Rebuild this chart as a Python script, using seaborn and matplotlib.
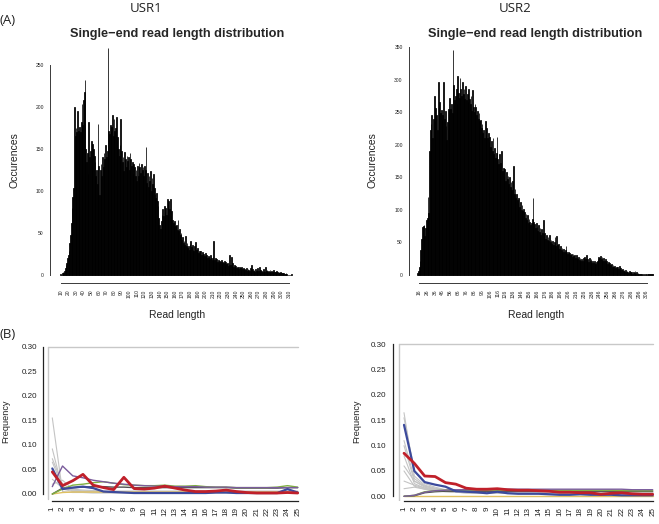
import numpy as np
import pandas as pd
import matplotlib
matplotlib.use("Agg")
import matplotlib.pyplot as plt
import seaborn as sns

sns.set_style("white")
plt.rcParams['font.family'] = ['Liberation Sans', 'DejaVu Sans']

# ---------------- data ----------------
usr1_len = list(range(10, 314))
usr1_cnt = [1, 0, 2, 3, 2, 5, 8, 12, 14, 20, 24, 28, 38, 48, 62, 80, 93, 103, 200, 165,
            175, 170, 195, 172, 168, 176, 170, 182, 204, 178, 208, 218, 232, 150, 135, 145, 120, 182, 140, 148,
            160, 138, 156, 150, 142, 135, 118, 125, 108, 180, 130, 95, 125, 132, 118, 140, 128, 145, 138, 155,
            140, 148, 270, 172, 168, 178, 170, 176, 190, 166, 186, 172, 175, 188, 160, 164, 150, 142, 155, 186,
            148, 135, 140, 124, 146, 138, 128, 142, 136, 140, 125, 145, 138, 130, 135, 120, 132, 128, 118, 125,
            112, 130, 118, 133, 128, 122, 132, 125, 128, 118, 130, 125, 152, 110, 122, 105, 118, 112, 124, 100,
            115, 108, 120, 104, 96, 92, 98, 88, 82, 68, 60, 55, 64, 72, 78, 70, 82, 75, 80, 72,
            91, 84, 88, 78, 90, 70, 76, 66, 62, 57, 64, 58, 60, 54, 66, 52, 55, 48, 50, 42,
            45, 38, 40, 36, 46, 34, 38, 32, 35, 30, 37, 41, 33, 36, 30, 28, 34, 39, 30, 27,
            32, 26, 29, 25, 28, 24, 27, 22, 25, 23, 26, 21, 24, 20, 23, 22, 19, 24, 20, 18,
            22, 40, 18, 20, 16, 19, 15, 18, 14, 17, 15, 18, 13, 16, 14, 17, 12, 15, 13, 14,
            11, 13, 24, 12, 22, 11, 14, 10, 12, 9, 11, 8, 10, 9, 7, 10, 8, 6, 9, 7,
            8, 5, 7, 6, 8, 5, 7, 6, 5, 8, 6, 12, 7, 5, 6, 4, 7, 5, 6, 8,
            5, 9, 4, 6, 5, 4, 7, 5, 4, 9, 5, 6, 4, 5, 3, 6, 4, 5, 3, 4,
            6, 3, 4, 2, 5, 3, 2, 3, 2, 3, 2, 2, 1, 2, 1, 1, 2, 1, 0, 0,
            0, 0, 0, 1]

usr2_len = list(range(14, 315))
usr2_cnt = [3, 6, 12, 22, 38, 55, 74, 75, 76, 60, 72, 84, 88, 120, 95, 190, 222, 232, 246, 210,
            240, 275, 236, 256, 245, 222, 297, 255, 266, 248, 254, 238, 246, 296, 240, 252, 228, 208, 235, 255,
            250, 272, 255, 262, 248, 346, 292, 268, 275, 285, 262, 306, 280, 272, 302, 285, 275, 296, 278, 285,
            270, 290, 268, 278, 265, 286, 270, 262, 275, 252, 284, 258, 250, 262, 258, 245, 252, 240, 248, 236,
            238, 226, 232, 218, 222, 210, 236, 215, 225, 210, 218, 204, 212, 196, 205, 190, 210, 185, 195, 180,
            188, 212, 178, 170, 186, 165, 172, 190, 160, 165, 150, 162, 145, 158, 148, 152, 140, 150, 135, 142,
            130, 145, 168, 125, 132, 118, 124, 115, 110, 118, 105, 112, 100, 108, 98, 102, 96, 88, 94, 84,
            92, 80, 86, 82, 76, 80, 86, 118, 82, 78, 72, 80, 74, 68, 76, 66, 72, 62, 70, 64,
            84, 60, 64, 56, 62, 54, 58, 52, 62, 50, 54, 48, 52, 46, 50, 58, 44, 60, 46, 42,
            48, 40, 44, 38, 42, 36, 40, 35, 38, 44, 36, 32, 36, 30, 34, 30, 32, 28, 33, 29,
            30, 26, 30, 27, 24, 28, 23, 26, 22, 25, 21, 26, 22, 28, 24, 30, 22, 25, 20, 26,
            22, 24, 19, 22, 18, 21, 19, 17, 20, 22, 24, 28, 26, 29, 24, 27, 22, 26, 21, 24,
            18, 22, 17, 20, 16, 18, 15, 17, 13, 15, 12, 14, 11, 13, 10, 12, 9, 14, 8, 10,
            7, 9, 6, 8, 5, 7, 4, 6, 5, 3, 6, 4, 3, 5, 2, 4, 3, 6, 2, 4,
            2, 3, 1, 2, 1, 1, 1, 0, 1, 0, 1, 1, 0, 1, 1, 0, 1, 1, 1, 1, 1]

usr1_xticks = list(range(10, 311, 10))
usr2_xticks = list(range(16, 307, 10))

pos = list(range(1, 26))

# USR1 frequency series
u1_red = [0.045, 0.017, 0.027, 0.040, 0.018, 0.013, 0.009, 0.034, 0.011, 0.010, 0.012, 0.016, 0.012,
          0.008, 0.005, 0.005, 0.006, 0.008, 0.005, 0.003, 0.002, 0.002, 0.002, 0.003, 0.002]
u1_blue = [0.052, 0.010, 0.013, 0.015, 0.012, 0.005, 0.004, 0.003, 0.002, 0.002, 0.002, 0.002, 0.002,
           0.002, 0.002, 0.002, 0.003, 0.003, 0.002, 0.002, 0.002, 0.002, 0.002, 0.010, 0.003]
u1_purple = [0.015, 0.057, 0.037, 0.033, 0.028, 0.025, 0.022, 0.020, 0.018, 0.017, 0.016, 0.016, 0.015,
             0.015, 0.015, 0.014, 0.014, 0.014, 0.013, 0.013, 0.013, 0.013, 0.013, 0.013, 0.013]
u1_green = [0.000, 0.010, 0.018, 0.020, 0.023, 0.025, 0.022, 0.019, 0.018, 0.017, 0.017, 0.018, 0.016,
            0.016, 0.017, 0.015, 0.014, 0.014, 0.013, 0.013, 0.013, 0.013, 0.014, 0.017, 0.014]
u1_dark = [0.000, 0.012, 0.013, 0.014, 0.015, 0.015, 0.014, 0.014, 0.013, 0.013, 0.013, 0.013, 0.013,
           0.013, 0.013, 0.013, 0.013, 0.013, 0.012, 0.012, 0.012, 0.012, 0.012, 0.013, 0.013]
u1_yellow = [0.000, 0.003, 0.004, 0.004, 0.004, 0.004, 0.004, 0.004, 0.004, 0.004, 0.004, 0.004, 0.004,
             0.004, 0.004, 0.004, 0.004, 0.004, 0.004, 0.004, 0.004, 0.004, 0.004, 0.004, 0.004]
u1_gray = [
    [0.155, 0.005, 0.003, 0.003, 0.002, 0.002, 0.002, 0.002, 0.002, 0.002, 0.002, 0.002, 0.002,
     0.002, 0.002, 0.002, 0.002, 0.002, 0.002, 0.002, 0.002, 0.002, 0.002, 0.002, 0.002],
    [0.092, 0.010, 0.005, 0.004, 0.004, 0.003, 0.003, 0.003, 0.003, 0.003, 0.003, 0.003, 0.003,
     0.003, 0.003, 0.003, 0.003, 0.003, 0.003, 0.003, 0.003, 0.003, 0.003, 0.003, 0.003],
    [0.072, 0.020, 0.008, 0.006, 0.005, 0.005, 0.004, 0.004, 0.004, 0.004, 0.004, 0.004, 0.004,
     0.004, 0.004, 0.004, 0.004, 0.004, 0.004, 0.004, 0.004, 0.004, 0.004, 0.004, 0.004],
    [0.065, 0.015, 0.006, 0.005, 0.005, 0.004, 0.004, 0.004, 0.004, 0.004, 0.004, 0.004, 0.004,
     0.004, 0.004, 0.004, 0.004, 0.004, 0.004, 0.004, 0.004, 0.004, 0.004, 0.004, 0.004],
    [0.030, 0.012, 0.008, 0.006, 0.006, 0.005, 0.005, 0.005, 0.005, 0.005, 0.005, 0.005, 0.005,
     0.005, 0.005, 0.005, 0.005, 0.005, 0.005, 0.005, 0.005, 0.005, 0.005, 0.005, 0.005],
    [0.020, 0.028, 0.010, 0.008, 0.007, 0.006, 0.006, 0.006, 0.006, 0.006, 0.006, 0.006, 0.006,
     0.006, 0.006, 0.006, 0.006, 0.006, 0.006, 0.006, 0.006, 0.006, 0.006, 0.006, 0.006],
]

# USR2 frequency series
u2_red = [0.085, 0.065, 0.040, 0.039, 0.027, 0.024, 0.016, 0.014, 0.014, 0.015, 0.013, 0.012, 0.012,
          0.011, 0.010, 0.008, 0.008, 0.007, 0.007, 0.004, 0.006, 0.007, 0.005, 0.004, 0.004]
u2_blue = [0.141, 0.050, 0.028, 0.023, 0.019, 0.010, 0.009, 0.008, 0.006, 0.009, 0.006, 0.005, 0.005,
           0.005, 0.004, 0.003, 0.003, 0.004, 0.003, 0.003, 0.003, 0.002, 0.002, 0.002, 0.002]
u2_purple = [0.000, 0.002, 0.008, 0.011, 0.012, 0.013, 0.013, 0.013, 0.013, 0.014, 0.014, 0.014, 0.014,
             0.014, 0.014, 0.014, 0.014, 0.014, 0.014, 0.014, 0.014, 0.014, 0.013, 0.013, 0.013]
u2_green = [0.000, 0.002, 0.009, 0.011, 0.012, 0.012, 0.012, 0.012, 0.012, 0.012, 0.012, 0.012, 0.012,
            0.012, 0.012, 0.012, 0.012, 0.012, 0.012, 0.012, 0.012, 0.011, 0.011, 0.011, 0.011]
u2_dark = [0.000, 0.001, 0.007, 0.009, 0.010, 0.010, 0.010, 0.010, 0.010, 0.010, 0.010, 0.010, 0.010,
           0.010, 0.010, 0.010, 0.010, 0.010, 0.010, 0.010, 0.010, 0.010, 0.010, 0.010, 0.010]
u2_yellow = [0.001, 0.001, 0.001, 0.001, 0.001, 0.001, 0.001, 0.001, 0.001, 0.001, 0.001, 0.001, 0.001,
             0.001, 0.001, 0.001, 0.001, 0.001, 0.001, 0.001, 0.001, 0.001, 0.001, 0.001, 0.001]
u2_gray = [
    [0.165, 0.040, 0.022, 0.016, 0.012, 0.010, 0.009, 0.008, 0.008, 0.008, 0.008, 0.008, 0.008,
     0.008, 0.008, 0.008, 0.008, 0.008, 0.008, 0.008, 0.008, 0.008, 0.008, 0.008, 0.008],
    [0.155, 0.050, 0.025, 0.018, 0.013, 0.011, 0.010, 0.009, 0.009, 0.009, 0.009, 0.009, 0.009,
     0.009, 0.009, 0.009, 0.009, 0.009, 0.009, 0.009, 0.009, 0.009, 0.009, 0.009, 0.009],
    [0.110, 0.035, 0.020, 0.014, 0.011, 0.009, 0.008, 0.007, 0.007, 0.007, 0.007, 0.007, 0.007,
     0.007, 0.007, 0.007, 0.007, 0.007, 0.007, 0.007, 0.007, 0.007, 0.007, 0.007, 0.007],
    [0.100, 0.030, 0.018, 0.013, 0.010, 0.008, 0.007, 0.007, 0.006, 0.006, 0.006, 0.006, 0.006,
     0.006, 0.006, 0.006, 0.006, 0.006, 0.006, 0.006, 0.006, 0.006, 0.006, 0.006, 0.006],
    [0.080, 0.025, 0.016, 0.012, 0.010, 0.008, 0.007, 0.006, 0.006, 0.006, 0.006, 0.006, 0.006,
     0.006, 0.006, 0.006, 0.006, 0.006, 0.006, 0.006, 0.006, 0.006, 0.006, 0.006, 0.006],
    [0.060, 0.030, 0.020, 0.015, 0.012, 0.010, 0.009, 0.008, 0.008, 0.008, 0.008, 0.008, 0.008,
     0.008, 0.008, 0.008, 0.008, 0.008, 0.008, 0.008, 0.008, 0.008, 0.008, 0.008, 0.008],
    [0.050, 0.020, 0.014, 0.011, 0.009, 0.008, 0.007, 0.006, 0.006, 0.006, 0.006, 0.006, 0.006,
     0.006, 0.006, 0.006, 0.006, 0.006, 0.006, 0.006, 0.006, 0.006, 0.006, 0.006, 0.006],
    [0.030, 0.022, 0.016, 0.012, 0.010, 0.009, 0.008, 0.008, 0.007, 0.007, 0.007, 0.007, 0.007,
     0.007, 0.007, 0.007, 0.007, 0.007, 0.007, 0.007, 0.007, 0.007, 0.007, 0.007, 0.007],
    [0.015, 0.018, 0.014, 0.011, 0.009, 0.008, 0.007, 0.007, 0.006, 0.006, 0.006, 0.006, 0.006,
     0.006, 0.006, 0.006, 0.006, 0.006, 0.006, 0.006, 0.006, 0.006, 0.006, 0.006, 0.006],
]
freq_yticks = [0.00, 0.05, 0.10, 0.15, 0.20, 0.25, 0.30]

# ---------------- figure ----------------
W, H = 659, 524
fig = plt.figure(figsize=(W / 100, H / 100), dpi=100)
fig.patch.set_facecolor("white")


def lims(lo_px, hi_px, va, pa, vb, pb):
    s = (vb - va) / (pb - pa)
    return va + (lo_px - pa) * s, va + (hi_px - pa) * s


def add_ax(l, r, t, b, xmap, ymap):
    ax = fig.add_axes([l / W, 1 - b / H, (r - l) / W, (b - t) / H])
    ax.set_xlim(*lims(l, r, *xmap))
    ax.set_ylim(*lims(b, t, *ymap))
    ax.set_facecolor("none")
    return ax


def r_style(ax, xb, yb, lsize, lw=0.8, col="#3a3a3a"):
    ax.spines['top'].set_visible(False)
    ax.spines['right'].set_visible(False)
    for s in ('left', 'bottom'):
        ax.spines[s].set_linewidth(lw)
        ax.spines[s].set_color(col)
    ax.spines['left'].set_bounds(*yb)
    ax.spines['bottom'].set_bounds(*xb)
    ax.tick_params(axis='both', length=3.0, width=lw, color=col, labelsize=lsize,
                   labelcolor="#222222", pad=1.5, direction='out')
    ax.grid(False)


def ftext(x, y, s, **kw):
    fig.text(x / W, 1 - y / H, s, **kw)


# histograms
hist_specs = [
    (usr1_len, usr1_cnt, usr1_xticks, (50, 300, 40, 283), (10, 60.7, 310, 289.0), (0, 275, 250, 65),
     [0, 50, 100, 150, 200, 250]),
    (usr2_len, usr2_cnt, usr2_xticks, (409, 656, 40, 283), (16, 419.3, 306, 646.7), (0, 275, 350, 47),
     [0, 50, 100, 150, 200, 250, 300, 350]),
]
for lens, cnts, xt, (l, r, t, b), xm, ym, yt in hist_specs:
    ax = add_ax(l, r, t, b, xm, ym)
    df = pd.DataFrame({"length": lens, "count": cnts})
    sns.histplot(data=df, x="length", weights="count", discrete=True, color="black",
                 edgecolor="black", linewidth=0.55, alpha=1, ax=ax)
    ax.set_xlim(*lims(l, r, *xm))
    ax.set_ylim(*lims(b, t, *ym))
    r_style(ax, (xt[0], xt[-1]), (yt[0], yt[-1]), 3.6, lw=0.7)
    ax.set_xticks(xt)
    ax.set_xticklabels([str(v) for v in xt], rotation=90)
    ax.set_yticks(yt)
    ax.set_yticklabels([str(v) for v in yt])
    ax.set_xlabel("")
    ax.set_ylabel("")

# frequency panels
freq_specs = [
    (u1_gray, u1_yellow, u1_dark, u1_green, u1_purple, u1_blue, u1_red,
     (43.3, 315, 330, 500.7), (1, 52.3, 25, 297.7), (0, 494, 0.3, 346.7)),
    (u2_gray, u2_yellow, u2_dark, u2_green, u2_purple, u2_blue, u2_red,
     (392.7, 660, 330, 500.7), (1, 404, 25, 652.7), (0, 496.3, 0.3, 344.3)),
]
for grays, yel, dark, grn, pur, blu, red, (l, r, t, b), xm, ym in freq_specs:
    ax = add_ax(l, r, t, b, xm, ym)
    # light gray frame
    ax.plot([0.55, 0.55], [-0.01, 0.30], color="#c8c8c8", lw=1.0, zorder=0)
    ax.plot([0.55, 25.0], [0.30, 0.30], color="#c8c8c8", lw=1.0, zorder=0)
    for g in grays:
        sns.lineplot(x=pos, y=g, color="#c4c4c4", lw=0.8, ax=ax)
    sns.lineplot(x=pos, y=yel, color="#e0c060", lw=1.0, ax=ax)
    sns.lineplot(x=pos, y=dark, color="#505050", lw=1.0, ax=ax)
    sns.lineplot(x=pos, y=grn, color="#80b040", lw=1.0, ax=ax)
    sns.lineplot(x=pos, y=pur, color="#7a5c9c", lw=1.0, ax=ax)
    sns.lineplot(x=pos, y=blu, color="#3c4a9c", lw=1.6, ax=ax)
    sns.lineplot(x=pos, y=red, color="#c0202a", lw=2.0, ax=ax)
    ax.set_xlim(*lims(l, r, *xm))
    ax.set_ylim(*lims(b, t, *ym))
    r_style(ax, (1, 25), (0, 0.3), 5.8, lw=0.9, col="#222222")
    ax.set_xticks(pos)
    ax.set_xticklabels([str(p) for p in pos], rotation=90)
    ax.set_yticks(freq_yticks)
    ax.set_yticklabels([f"{v:.2f}" for v in freq_yticks])
    ax.set_xlabel("")
    ax.set_ylabel("")

# texts
cal = ['Open Sans', 'DejaVu Sans']
ftext(8, 20, "(A)", ha="center", va="center", fontsize=9.5, family=cal, color="#222222")
ftext(8, 334, "(B)", ha="center", va="center", fontsize=9.5, family=cal, color="#222222")
ftext(146, 9, "USR1", ha="center", va="center", fontsize=9.5, family=cal, color="#222222")
ftext(515, 9, "USR2", ha="center", va="center", fontsize=9.5, family=cal, color="#222222")
for cx in (177, 535.5):
    ftext(cx, 34, "Single\u2212end read length distribution", ha="center", va="center",
          fontsize=9.2, fontweight="bold")
for cx in (14, 373):
    ftext(cx, 160, "Occurences", ha="center", va="center", rotation=90, fontsize=7.5, color="#222222")
for cx in (177, 536):
    ftext(cx, 315, "Read length", ha="center", va="center", fontsize=7.5, color="#222222")
for cx in (6, 357):
    ftext(cx, 421, "Frequency", ha="center", va="center", rotation=90, fontsize=6.6, color="#222222")

fig.savefig("out.png", dpi=100, facecolor="white")
